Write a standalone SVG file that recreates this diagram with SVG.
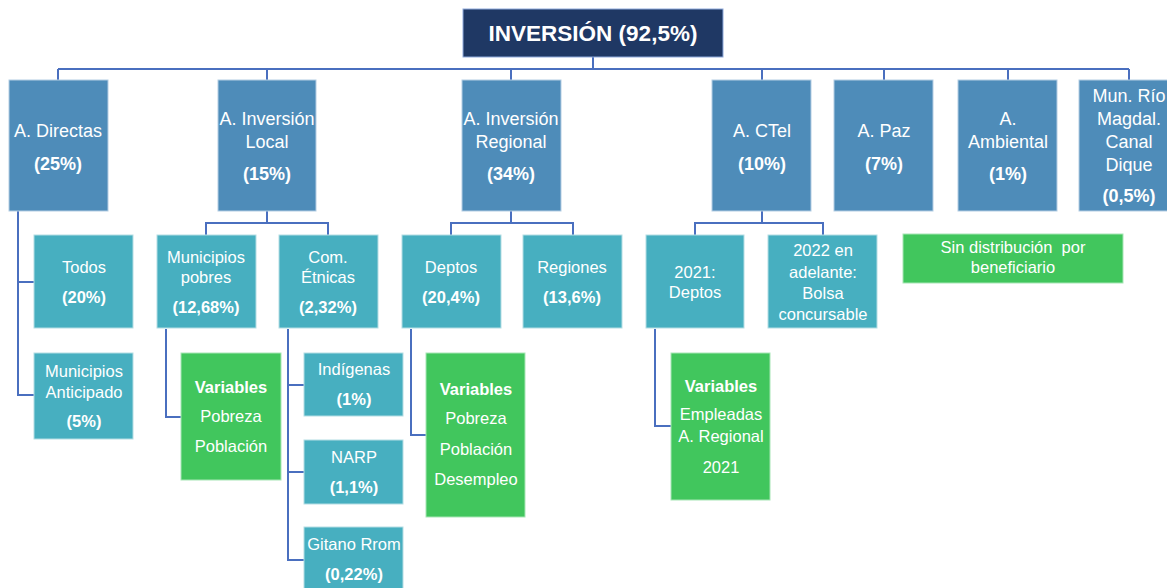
<svg xmlns="http://www.w3.org/2000/svg" width="1167" height="588" viewBox="0 0 1167 588">
<style>
text{font-family:"Liberation Sans",Arial,sans-serif;fill:#fff;text-anchor:middle}
.top{fill:#1f3864;stroke:#8faadc;stroke-width:1}
.l1{fill:#4e8cb9;stroke:#b4cde3;stroke-width:1}
.l2{fill:#47afc0;stroke:#b4dde4;stroke-width:1}
.gr{fill:#41c65d;stroke:#a8e6b6;stroke-width:1}
.t1{font-size:18px}
.t2{font-size:16.5px}
.b{font-weight:bold}
.c{fill:none;stroke:#4a6fbf;stroke-width:2}
</style>
<rect width="1167" height="588" fill="#fff"/>
<g id="connectors" class="c">
<path d="M593 57V69M58 69H1129M58 69V80M267 69V80M511 69V80M762 69V80M884 69V80M1008 69V80M1129 69V80"/>
<path d="M18 211V395H34M18 282H34"/>
<path d="M267 211V223M206 235V223H328V235"/>
<path d="M511 211V223M451 235V223H573V235"/>
<path d="M762 211V223M695 235V223H823V235"/>
<path d="M166 329V417H181"/>
<path d="M288 329V560H304M288 385H304M288 472H304"/>
<path d="M411 329V435H426"/>
<path d="M655 329V426H671"/>
</g>
<g id="inversion"><rect class="top" x="463" y="9" width="260" height="48"/><text x="593" y="41" class="b" font-size="22.5">INVERSIÓN (92,5%)</text></g>
<g id="directas"><rect class="l1" x="9" y="80" width="99" height="131"/><text class="t1" x="58" y="137">A. Directas</text><text class="t1 b" x="58" y="170">(25%)</text></g>
<g id="local"><rect class="l1" x="218" y="80" width="98" height="131"/><text class="t1" x="267" y="125">A. Inversión</text><text class="t1" x="267" y="148">Local</text><text class="t1 b" x="267" y="180">(15%)</text></g>
<g id="regional"><rect class="l1" x="462" y="80" width="99" height="131"/><text class="t1" x="511" y="125">A. Inversión</text><text class="t1" x="511" y="148">Regional</text><text class="t1 b" x="511" y="180">(34%)</text></g>
<g id="ctel"><rect class="l1" x="712" y="80" width="99" height="131"/><text class="t1" x="762" y="137">A. CTel</text><text class="t1 b" x="762" y="170">(10%)</text></g>
<g id="paz"><rect class="l1" x="834" y="80" width="99" height="131"/><text class="t1" x="884" y="137">A. Paz</text><text class="t1 b" x="884" y="170">(7%)</text></g>
<g id="ambiental"><rect class="l1" x="958" y="80" width="99" height="131"/><text class="t1" x="1008" y="125">A.</text><text class="t1" x="1008" y="148">Ambiental</text><text class="t1 b" x="1008" y="180">(1%)</text></g>
<g id="magdalena"><rect class="l1" x="1079" y="80" width="100" height="131"/><text class="t1" x="1129" y="102">Mun. Río</text><text class="t1" x="1129" y="125">Magdal.</text><text class="t1" x="1129" y="148">Canal</text><text class="t1" x="1129" y="171">Dique</text><text class="t1 b" x="1129" y="202">(0,5%)</text></g>
<g id="todos"><rect class="l2" x="34" y="235" width="99" height="93"/><text class="t2" x="84" y="273">Todos</text><text class="t2 b" x="84" y="303">(20%)</text></g>
<g id="anticipado"><rect class="l2" x="34" y="353" width="99" height="86"/><text class="t2" x="84" y="377">Municipios</text><text class="t2" x="84" y="398">Anticipado</text><text class="t2 b" x="84" y="427">(5%)</text></g>
<g id="pobres"><rect class="l2" x="157" y="235" width="99" height="93"/><text class="t2" x="206" y="263">Municipios</text><text class="t2" x="206" y="283">pobres</text><text class="t2 b" x="206" y="313">(12,68%)</text></g>
<g id="etnicas"><rect class="l2" x="279" y="235" width="99" height="93"/><text class="t2" x="328" y="263">Com.</text><text class="t2" x="328" y="283">Étnicas</text><text class="t2 b" x="328" y="313">(2,32%)</text></g>
<g id="deptos"><rect class="l2" x="402" y="235" width="99" height="93"/><text class="t2" x="451" y="273">Deptos</text><text class="t2 b" x="451" y="303">(20,4%)</text></g>
<g id="regiones"><rect class="l2" x="523" y="235" width="99" height="93"/><text class="t2" x="572" y="273">Regiones</text><text class="t2 b" x="572" y="303">(13,6%)</text></g>
<g id="deptos2021"><rect class="l2" x="646" y="235" width="98" height="93"/><text class="t2" x="695" y="278">2021:</text><text class="t2" x="695" y="298">Deptos</text></g>
<g id="bolsa"><rect class="l2" x="768" y="235" width="109" height="93"/><text class="t2" x="823" y="256">2022 en</text><text class="t2" x="823" y="278">adelante:</text><text class="t2" x="823" y="299">Bolsa</text><text class="t2" x="823" y="320">concursable</text></g>
<g id="sindist"><rect class="gr" x="903" y="234" width="220" height="49"/><text x="1013" y="253" font-size="16.5" xml:space="preserve">Sin distribución  por</text><text x="1013" y="273" font-size="16.5">beneficiario</text></g>
<g id="var-pobres"><rect class="gr" x="181" y="353" width="100" height="127"/><text class="t2 b" x="231" y="393">Variables</text><text class="t2" x="231" y="422">Pobreza</text><text class="t2" x="231" y="452">Población</text></g>
<g id="indigenas"><rect class="l2" x="304" y="353" width="99" height="63"/><text class="t2" x="354" y="375">Indígenas</text><text class="t2 b" x="354" y="405">(1%)</text></g>
<g id="narp"><rect class="l2" x="304" y="440" width="99" height="64"/><text class="t2" x="354" y="463">NARP</text><text class="t2 b" x="354" y="493">(1,1%)</text></g>
<g id="gitano"><rect class="l2" x="304" y="527" width="99" height="70"/><text class="t2" x="354" y="550">Gitano Rrom</text><text class="t2 b" x="354" y="580">(0,22%)</text></g>
<g id="var-deptos"><rect class="gr" x="426" y="353" width="99" height="164"/><text class="t2 b" x="476" y="395">Variables</text><text class="t2" x="476" y="424">Pobreza</text><text class="t2" x="476" y="455">Población</text><text class="t2" x="476" y="485">Desempleo</text></g>
<g id="var-2021"><rect class="gr" x="671" y="353" width="99" height="147"/><text class="t2 b" x="721" y="392">Variables</text><text class="t2" x="721" y="420">Empleadas</text><text class="t2" x="721" y="442">A. Regional</text><text class="t2" x="721" y="473">2021</text></g>
</svg>
